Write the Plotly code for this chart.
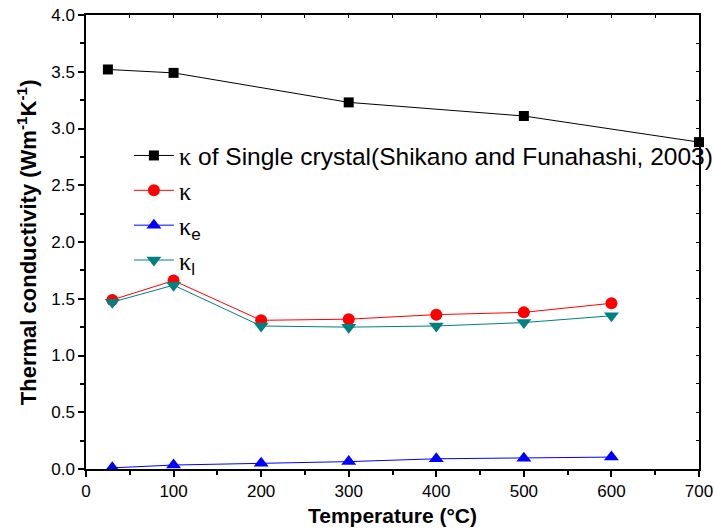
import plotly.graph_objects as go

# Data
sc_T = [25, 100, 300, 500, 700]
sc_k = [3.52, 3.49, 3.23, 3.11, 2.88]

T = [30, 100, 200, 300, 400, 500, 600]
k_total = [1.49, 1.66, 1.31, 1.32, 1.36, 1.38, 1.46]
k_e = [0.01, 0.035, 0.05, 0.065, 0.09, 0.095, 0.105]
k_l = [1.47, 1.62, 1.26, 1.25, 1.26, 1.29, 1.35]

x_ticks = [0, 100, 200, 300, 400, 500, 600, 700]
y_ticks = [0, 0.5, 1.0, 1.5, 2.0, 2.5, 3.0, 3.5, 4.0]
y_ticktext = ["0.0", "0.5", "1.0", "1.5", "2.0", "2.5", "3.0", "3.5", "4.0"]

K = '<span style="font-family:Liberation Serif, Times New Roman, serif">κ</span>'
names = [K + " of Single crystal(Shikano and Funahashi, 2003)", K,
         K + "<sub>e</sub>", K + "<sub>l</sub>"]

fig = go.Figure()
fig.add_trace(go.Scatter(x=sc_T, y=sc_k, mode="lines+markers", name=names[0],
                         line=dict(color="#000000", width=1),
                         marker=dict(symbol="square", size=10, color="#000000"),
                         cliponaxis=False, legendgroup="a"))
fig.add_trace(go.Scatter(x=T, y=k_total, mode="lines+markers", name=names[1],
                         line=dict(color="#ff0000", width=1),
                         marker=dict(symbol="circle", size=12, color="#ff0000"),
                         cliponaxis=False, legendgroup="b"))
fig.add_trace(go.Scatter(x=T, y=k_e, mode="lines+markers", name=names[2],
                         line=dict(color="#0000ff", width=1),
                         marker=dict(symbol="triangle-up", size=13, color="#0000ff"),
                         cliponaxis=False, legendgroup="c"))
fig.add_trace(go.Scatter(x=T, y=k_l, mode="lines+markers", name=names[3],
                         line=dict(color="#008080", width=1),
                         marker=dict(symbol="triangle-down", size=13, color="#008080"),
                         cliponaxis=False, legendgroup="d"))

# invisible trace for top/right axes
fig.add_trace(go.Scatter(x=[0], y=[0], xaxis="x2", yaxis="y2", mode="markers",
                         marker=dict(opacity=0), showlegend=False, hoverinfo="skip"))

tickfont = dict(family="Liberation Sans, Arial, sans-serif", size=17, color="#000000")

fig.update_layout(
    width=714, height=530,
    margin=dict(l=86, r=15, t=15, b=61, autoexpand=False),
    paper_bgcolor="white", plot_bgcolor="white",
    font=dict(family="Liberation Sans, Arial, sans-serif", color="#000000"),
    xaxis=dict(range=[0, 700], tickvals=x_ticks, automargin=False, ticklabeloverflow="allow",
               ticks="outside", ticklen=6, tickwidth=1.5, tickcolor="#000000",
               minor=dict(dtick=50, ticks="outside", ticklen=4, tickwidth=1.5, tickcolor="#000000"),
               showline=True, linecolor="#000000", linewidth=1.5, showgrid=False, zeroline=False,
               tickfont=tickfont,
               title=dict(text="<b>Temperature (°C)</b>", font=dict(size=21), standoff=8)),
    yaxis=dict(range=[0, 4.0], tickvals=y_ticks, ticktext=y_ticktext, automargin=False,
               ticklabeloverflow="allow",
               ticks="outside", ticklen=6, tickwidth=1.5, tickcolor="#000000",
               minor=dict(dtick=0.25, ticks="outside", ticklen=4, tickwidth=1.5, tickcolor="#000000"),
               showline=True, linecolor="#000000", linewidth=1.5, showgrid=False, zeroline=False,
               tickfont=tickfont),
    xaxis2=dict(range=[0, 700], overlaying="x", side="top", dtick=50, automargin=False,
                ticks="inside", ticklen=3, tickcolor="#000000", showticklabels=False,
                showline=True, linecolor="#000000", linewidth=1.5, showgrid=False, zeroline=False),
    yaxis2=dict(range=[0, 4.0], overlaying="y", side="right", dtick=0.25, automargin=False,
                ticks="inside", ticklen=3, tickcolor="#000000", showticklabels=False,
                showline=True, linecolor="#000000", linewidth=1.5, showgrid=False, zeroline=False),
    legend=dict(x=0.07, y=0.74, xanchor="left", yanchor="top",
                bgcolor="rgba(0,0,0,0)", borderwidth=0,
                font=dict(size=24.5, color="#000000"),
                itemwidth=40, tracegroupgap=0),
    showlegend=True,
    annotations=[dict(text="<b>Thermal conductivity (Wm<sup>-1</sup>K<sup>-1</sup>)</b>",
                      xref="paper", yref="paper", x=-0.096, y=0.5,
                      xanchor="center", yanchor="middle", textangle=-90,
                      showarrow=False, font=dict(size=22, color="#000000"))],
)

# remove the browser's default 8px body margin so the figure fills the window exactly
fig.write_html("out.html", config={"displayModeBar": False},
               post_script="document.body.style.margin='0px';")
